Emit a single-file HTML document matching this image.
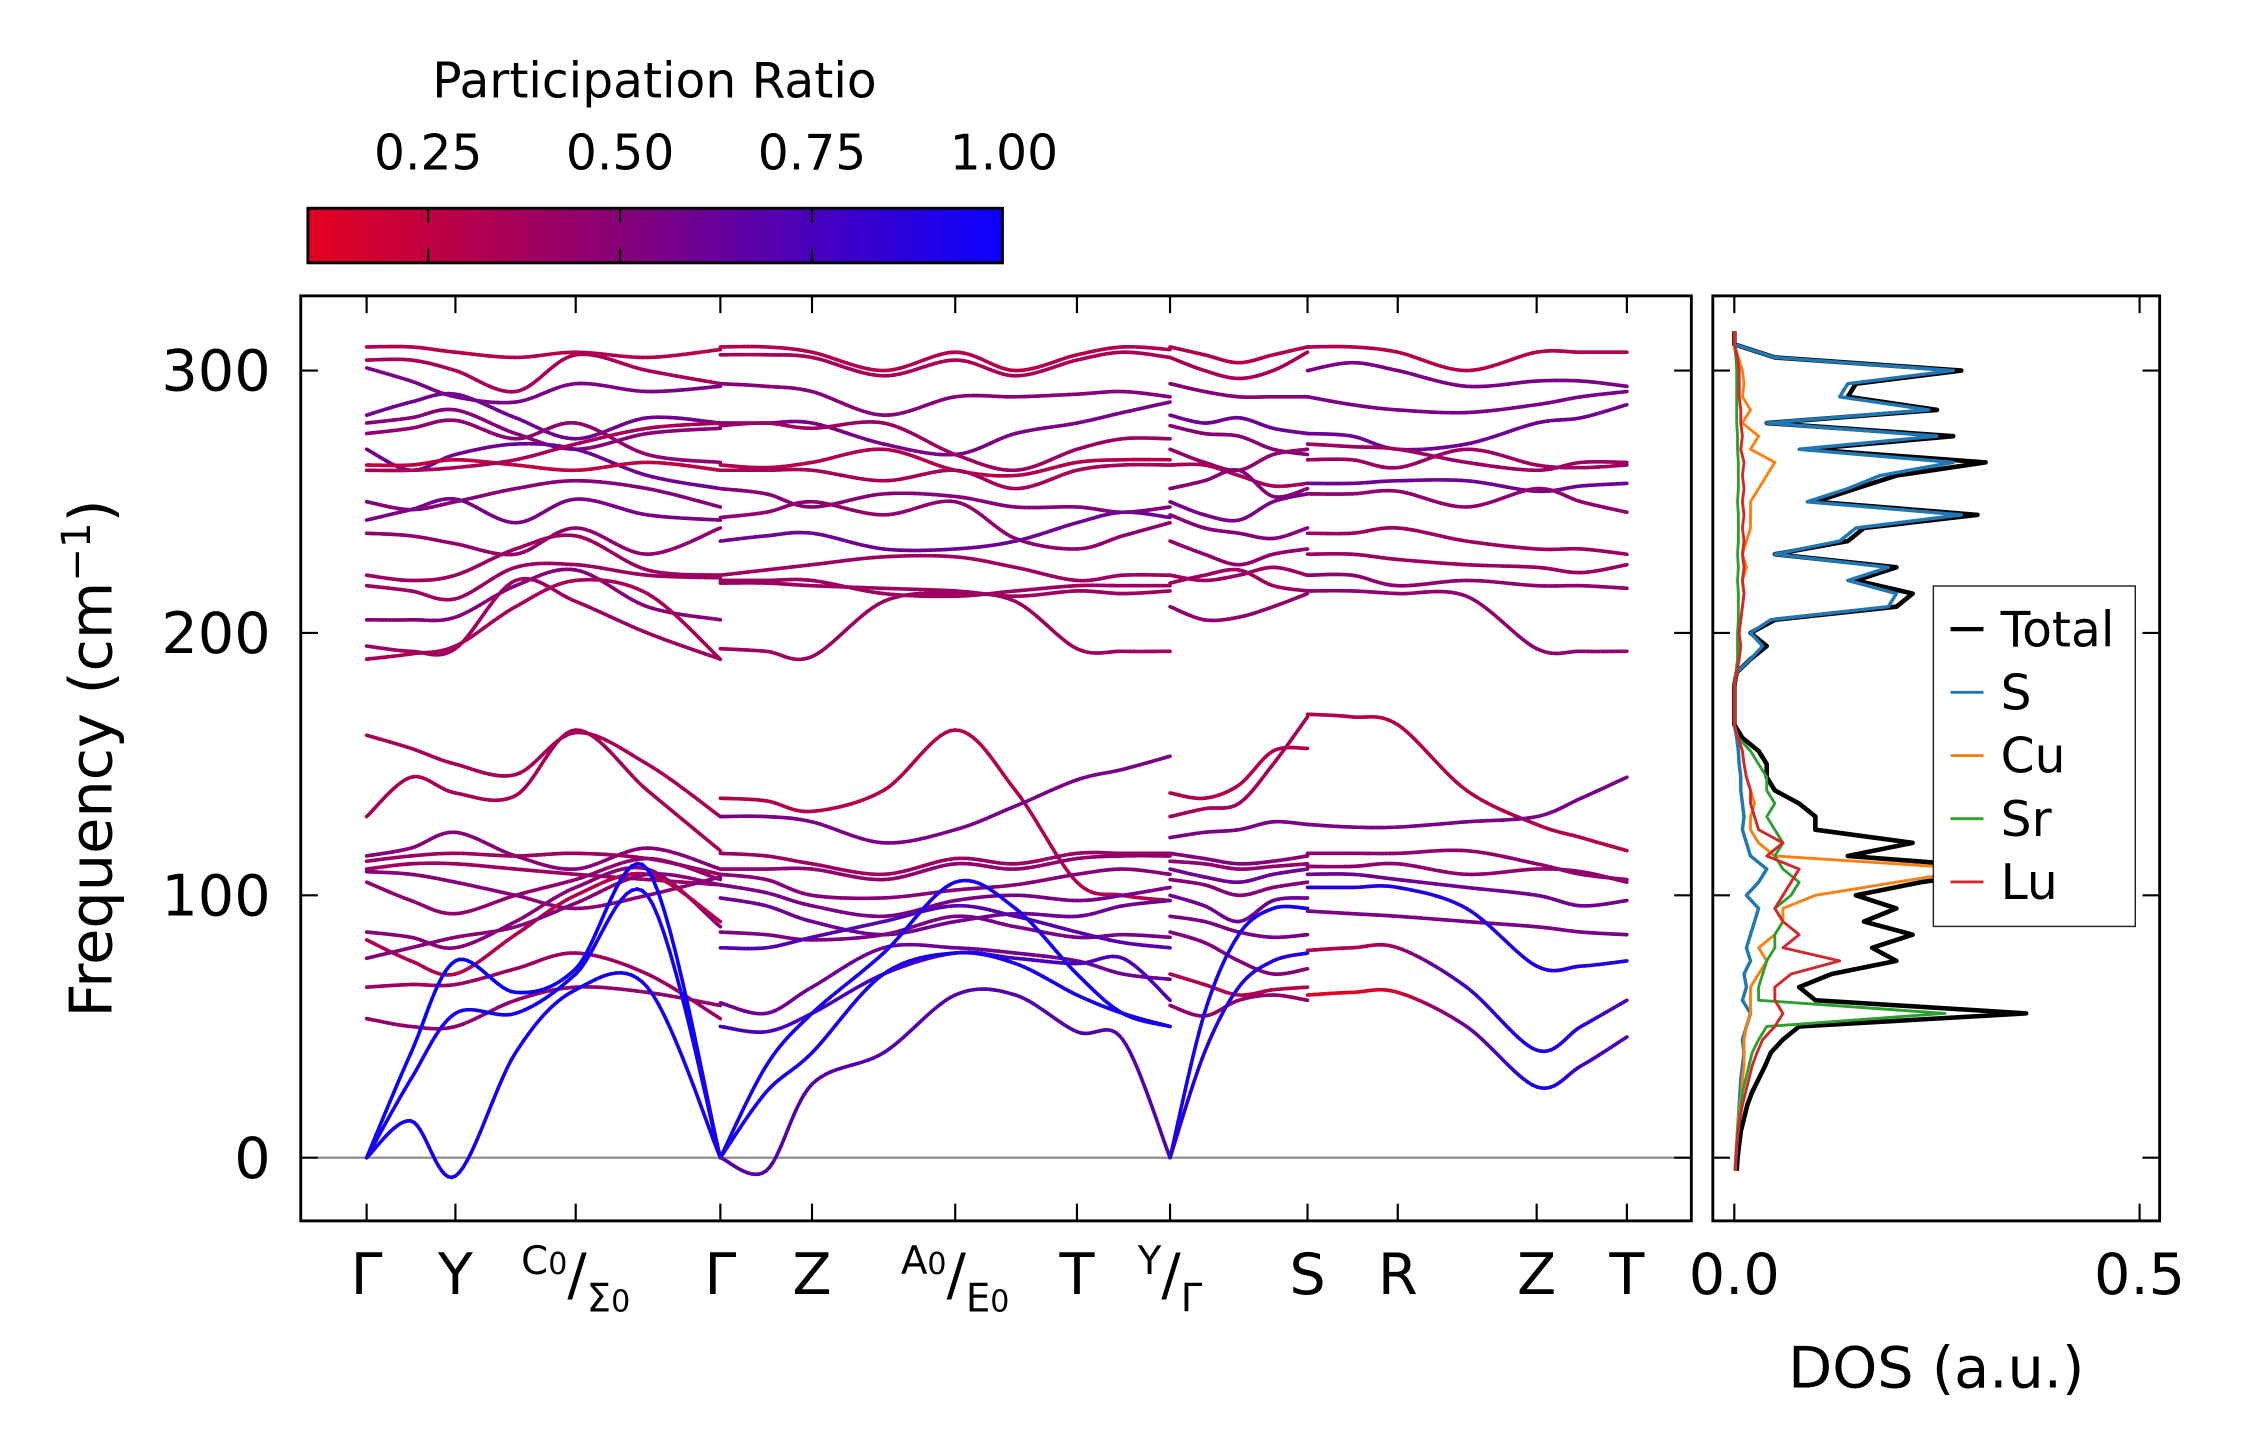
<!DOCTYPE html>
<html><head><meta charset="utf-8"><style>
html,body{margin:0;padding:0;background:#fff;}
svg{display:block;font-family:"DejaVu Sans","Liberation Sans",sans-serif;}
</style></head><body>
<svg id="fig" width="2247" height="1455" viewBox="0 0 1569 1013" preserveAspectRatio="none" xmlns="http://www.w3.org/2000/svg">
<defs>
<linearGradient id="cbgrad" x1="0" x2="1" y1="0" y2="0">
<stop offset="0" stop-color="rgb(228,0,30)"/>
<stop offset="0.45" stop-color="rgb(135,0,120)"/>
<stop offset="1" stop-color="rgb(10,0,255)"/>
</linearGradient>
<clipPath id="mainclip"><rect x="210" y="206" width="971" height="644"/></clipPath>
<clipPath id="dosclip"><rect x="1196" y="206" width="312" height="644"/></clipPath>
</defs>
<g>
<text x="457" y="68" font-size="34" text-anchor="middle">Participation Ratio</text>
<rect x="215" y="145" width="485" height="38" fill="url(#cbgrad)" stroke="#000" stroke-width="2"/>
<g id="cbticks"></g>
</g>
<g>
<rect x="210" y="206" width="971" height="644" fill="none" stroke="#000" stroke-width="2"/>
<line x1="222" x2="1181" y1="806" y2="806" stroke="#888" stroke-width="1.5"/>
<g id="bands" clip-path="url(#mainclip)"></g>
<g id="mainticks"></g>
<text transform="translate(78,528) rotate(-90)" font-size="41" text-anchor="middle">Frequency (cm<tspan font-size="28" dy="-15">−1</tspan><tspan dy="15">)</tspan></text>
</g>
<g>
<rect x="1196" y="206" width="312" height="644" fill="none" stroke="#000" stroke-width="2"/>
<g id="dos" clip-path="url(#dosclip)"></g>
<g id="dosticks"></g>
<text x="1352" y="966" font-size="40" text-anchor="middle">DOS (a.u.)</text>
<g id="legend"></g>
</g>
</svg>
<script>
// ---- band structure data ----
const kTickPos = [0, 62, 146, 247, 311, 411, 496, 561, 657, 720, 817, 880];
const yTicks = [0, 100, 200, 300];
const cbTicks = [0.25, 0.5, 0.75, 1.0];
const cbTickLabels = ["0.25", "0.50", "0.75", "1.00"];

const s1k = [0, 31, 62, 104, 146, 196, 247];
const s1f = [
[309,309,307,305,307,305,308],[304,304,300,292,306,300,295],[301,296,290,288,295,292,294],
[283,288,291,282,274,282,280],[280,282,285,276,270,276,278],[276,278,281,274,280,268,265],
[270,262,268,272,270,260,255],[264,264,266,264,262,265,262],[262,262,263,266,272,278,280],
[250,247,250,255,258,255,248],[243,247,251,242,251,245,243],[238,237,234,230,240,230,240],
[222,220,222,232,237,224,222],[218,216,213,225,226,222,221],[205,205,206,218,224,210,205],
[195,193,194,220,212,200,190],[190,192,195,210,220,215,190],
[161,156,150,146,162,150,130],[130,145,139,138,163,140,117],[115,118,124,115,110,118,110],
[113,115,116,115,116,114,108],[110,112,112,110,108,106,104],[109,108,105,100,95,100,107],
[105,98,93,100,106,114,106],[86,84,80,90,103,110,88],[83,75,70,85,100,108,90],
[76,80,84,88,97,108,104],[65,66,66,72,78,70,53],[53,50,50,60,65,63,58],
[0,40,75,63,72,110,0],[0,30,55,55,70,100,0],[0,14,-7,40,64,65,0]];
const s1p = [.3,.35,.55,.6,.5,.45,.6,.25,.35,.5,.55,.45,.4,.4,.5,.4,.35,
.35,.35,.5,.4,.4,.5,.45,.5,.3,.5,.4,.45,1.0,.95,.95];

const s2k = [247, 279, 311, 361, 411, 453, 496, 528, 561];
const s2f = [
[309,309,307,300,307,300,306,309,308],[306,306,305,298,304,298,304,307,305],[295,294,292,283,290,290,291,292,290],
[280,280,280,272,268,276,280,284,288],[279,280,278,280,268,262,270,274,274],[264,263,265,270,262,260,265,266,266],
[262,262,262,258,262,255,262,264,264],[255,253,248,253,252,248,248,246,248],[244,246,250,245,250,236,232,237,242],
[235,237,238,232,232,235,242,246,244],[222,224,226,229,229,225,220,222,222],[220,220,220,215,214,216,218,218,218],
[219,219,218,217,216,214,216,215,216],[194,193,191,212,215,212,194,193,193],
[137,136,132,140,163,140,105,100,98],[130,130,128,120,125,134,144,148,153],[116,115,112,108,114,112,116,116,116],
[110,110,110,106,112,110,114,115,115],[108,106,100,99,102,104,108,110,108],[104,101,96,92,98,100,98,100,103],
[99,96,90,85,90,93,92,96,98],[86,85,83,85,92,88,84,85,84],[80,80,84,90,96,92,86,82,80],
[59,55,65,80,80,78,75,70,68],[50,48,55,70,78,76,74,76,60],[0,25,40,70,78,74,62,55,50],
[0,35,55,78,105,95,70,55,50],[0,-5,28,40,62,62,48,45,0]];
const s2p = [.3,.35,.5,.55,.4,.3,.35,.5,.45,.6,.4,.4,.4,.4,
.3,.55,.4,.45,.5,.55,.6,.55,.7,.6,.75,.95,.95,.7];

const s3k = [561, 585, 609, 633, 657];
const s3f = [
[309,306,303,306,309],[305,300,297,300,307],[295,292,290,290,290],[283,280,282,278,276],
[279,276,275,270,268],[270,265,262,268,270],[264,264,260,256,257],[255,258,262,252,255],
[250,245,243,250,253],[245,240,238,236,240],[235,230,226,230,232],[222,220,222,225,222],
[219,222,224,218,216],[210,205,206,210,215],
[139,137,142,155,156],[130,133,135,150,168],[122,124,125,128,127],[116,114,112,113,115],
[113,112,110,111,112],[110,107,105,108,110],[106,104,100,103,105],[100,96,90,98,99],
[92,90,86,84,85],[86,82,75,70,72],[70,66,62,64,65],[58,54,60,62,60],
[0,55,85,95,95],[0,40,65,75,78]];
const s3p = [.3,.35,.5,.6,.5,.45,.35,.5,.55,.5,.45,.4,.4,.45,
.3,.35,.55,.5,.45,.6,.5,.6,.55,.5,.3,.45,.95,.9];

const s4k = [657, 688, 720, 768, 817, 848, 880];
const s4f = [
[309,309,307,300,307,307,307],[300,303,300,294,296,296,294],[290,287,285,284,287,290,292],
[276,275,270,272,280,282,287],[272,271,270,265,262,265,265],[266,266,263,270,264,263,264],
[257,257,258,258,254,256,257],[253,253,254,248,255,250,246],[238,238,240,235,232,232,230],
[230,230,228,226,225,223,226],[222,222,218,220,218,218,217],[216,216,215,214,194,193,193],
[169,168,165,140,127,122,117],[127,126,126,128,130,137,145],[116,116,116,117,112,108,106],
[111,111,112,108,110,109,105],[108,108,106,103,100,96,98],[94,93,92,90,88,86,85],
[103,103,103,95,73,73,75],[79,80,80,65,41,50,60],[62,63,63,50,27,35,46]];
const s4p = [.3,.55,.55,.6,.4,.4,.6,.45,.4,.4,.45,.45,
.3,.55,.45,.45,.6,.55,.9,[.3,.3,.4,.8,.95,.85,.7],[.1,.1,.15,.6,.95,.8,.7]];

// ---- DOS data (frequency grid every 5 cm-1 from -5 to 315) ----
const dosFreq = [];
for (let f = -5; f <= 315; f += 5) dosFreq.push(f);
const dosTotal = [0.003,0.004,0.006,0.008,0.012,0.016,0.022,0.03,0.038,0.045,0.06,0.08,0.36,0.1,0.08,0.12,0.2,0.17,0.22,0.16,0.2,0.15,0.23,0.35,0.14,0.22,0.1,0.1,0.08,0.05,0.04,0.04,0.03,0.01,0.0,0.0,0.0,0.0,0.003,0.02,0.04,0.02,0.05,0.2,0.22,0.15,0.2,0.05,0.14,0.16,0.3,0.1,0.15,0.2,0.31,0.09,0.27,0.04,0.25,0.14,0.15,0.28,0.05,0.0,0.0];
const dosS = [0.001,0.002,0.003,0.004,0.005,0.006,0.007,0.008,0.01,0.012,0.01,0.015,0.02,0.01,0.015,0.012,0.02,0.015,0.02,0.025,0.03,0.015,0.03,0.04,0.02,0.015,0.01,0.012,0.01,0.008,0.008,0.006,0.005,0.003,0.0,0.0,0.0,0.0,0.003,0.02,0.035,0.02,0.045,0.19,0.2,0.14,0.19,0.05,0.13,0.15,0.28,0.09,0.14,0.18,0.27,0.08,0.25,0.04,0.24,0.13,0.14,0.27,0.05,0.0,0.0];
const dosCu = [0.001,0.002,0.003,0.004,0.005,0.007,0.009,0.01,0.012,0.012,0.012,0.015,0.02,0.02,0.02,0.03,0.04,0.03,0.05,0.06,0.06,0.1,0.2,0.3,0.05,0.03,0.02,0.02,0.025,0.02,0.015,0.012,0.01,0.005,0.0,0.0,0.0,0.0,0.002,0.005,0.006,0.005,0.008,0.01,0.012,0.01,0.015,0.01,0.015,0.02,0.02,0.02,0.03,0.04,0.05,0.02,0.03,0.01,0.02,0.01,0.012,0.01,0.005,0.0,0.0];
const dosSr = [0.001,0.002,0.003,0.004,0.006,0.008,0.01,0.014,0.018,0.022,0.03,0.04,0.26,0.03,0.03,0.035,0.04,0.05,0.05,0.06,0.05,0.07,0.08,0.06,0.05,0.06,0.05,0.04,0.05,0.04,0.04,0.03,0.02,0.005,0.0,0.0,0.0,0.0,0.002,0.004,0.004,0.004,0.005,0.005,0.005,0.004,0.005,0.004,0.005,0.005,0.005,0.004,0.005,0.005,0.005,0.004,0.004,0.003,0.003,0.003,0.003,0.003,0.002,0.0,0.0];
const dosLu = [0.001,0.002,0.003,0.005,0.007,0.01,0.014,0.018,0.022,0.028,0.035,0.05,0.06,0.05,0.05,0.07,0.13,0.06,0.08,0.06,0.05,0.06,0.07,0.08,0.04,0.06,0.03,0.025,0.02,0.02,0.015,0.012,0.01,0.005,0.0,0.0,0.0,0.0,0.003,0.006,0.008,0.006,0.008,0.01,0.012,0.01,0.012,0.01,0.012,0.01,0.012,0.01,0.012,0.01,0.012,0.008,0.01,0.008,0.008,0.006,0.006,0.006,0.004,0.0,0.0];
const legendLabels = ["Total","S","Cu","Sr","Lu"];
const legendColors = ["#000000","#1f77b4","#ff7f0e","#2ca02c","#d62728"];

// ---- scales ----
const NS = "http://www.w3.org/2000/svg";
function xK(k){ return 256 + k; }
function yF(f){ return 806 - f * 1.8267; }
function xD(d){ return 1211 + d * 566; }
function xCb(v){ return 299 + (v - 0.25) * 536; }
function prColor(p){
  const stops = [[0.09,[228,0,30]],[0.5,[135,0,120]],[1.0,[10,0,255]]];
  p = Math.max(0.09, Math.min(1, p));
  let a = stops[0], b = stops[1];
  if (p > 0.5) { a = stops[1]; b = stops[2]; }
  const t = (p - a[0]) / (b[0] - a[0]);
  const c = a[1].map((v,i)=>Math.round(v + (b[1][i]-v)*t));
  return `rgb(${c[0]},${c[1]},${c[2]})`;
}
function mk(tag, attrs, parent){
  const e = document.createElementNS(NS, tag);
  for (const k in attrs) e.setAttribute(k, attrs[k]);
  parent.appendChild(e);
  return e;
}

// ---- colorbar ticks ----
const cbt = document.getElementById('cbticks');
cbTicks.forEach((v,i)=>{
  const x = xCb(v);
  if (v < 1) {
    const l = mk('line',{x1:x,x2:x,y1:145,y2:155,stroke:'#000','stroke-width':1.5},cbt);
    
    
    const l2 = mk('line',{x1:x,x2:x,y1:173,y2:183,stroke:'#000','stroke-width':1.5},cbt);
    
    
  }
  const t = mk('text',{x:x,y:118,'font-size':34,'text-anchor':'middle'},cbt);
  t.textContent = cbTickLabels[i];
  
  
});

// ---- bands ----
const bandsG = document.getElementById('bands');
function drawSection(ks, fs, ps, secName){
  fs.forEach((band, bi)=>{
    const pr = ps[bi];
    const prArr = Array.isArray(pr) ? pr : ks.map(()=>pr);
    const g = mk('g',{},bandsG);
    
    
    const n = ks.length;
    const P = ks.map((k,i)=>[xK(k), yF(band[i])]);
    for (let i=0;i<n-1;i++){
      const p0 = P[Math.max(0,i-1)], p1 = P[i], p2 = P[i+1], p3 = P[Math.min(n-1,i+2)];
      const steps = 14;
      let prev = p1;
      for (let s=1;s<=steps;s++){
        const t = s/steps, t2=t*t, t3=t2*t;
        const x = 0.5*((2*p1[0]) + (-p0[0]+p2[0])*t + (2*p0[0]-5*p1[0]+4*p2[0]-p3[0])*t2 + (-p0[0]+3*p1[0]-3*p2[0]+p3[0])*t3);
        const y = 0.5*((2*p1[1]) + (-p0[1]+p2[1])*t + (2*p0[1]-5*p1[1]+4*p2[1]-p3[1])*t2 + (-p0[1]+3*p1[1]-3*p2[1]+p3[1])*t3);
        const pv = prArr[i] + (prArr[i+1]-prArr[i])*(t - 0.5/steps);
        mk('line',{x1:prev[0].toFixed(2),y1:prev[1].toFixed(2),x2:x.toFixed(2),y2:y.toFixed(2),stroke:prColor(pv),'stroke-width':2.5,'stroke-linecap':'round'},g);
        prev = [x,y];
      }
    }
  });
}
drawSection(s1k, s1f, s1p, 'gamma-y-sigma-gamma');
drawSection(s2k, s2f, s2p, 'gamma-z-a-t-y');
drawSection(s3k, s3f, s3p, 'gamma-s');
drawSection(s4k, s4f, s4p, 's-r-z-t');

// ---- main ticks ----
const mt = document.getElementById('mainticks');
kTickPos.forEach(k=>{
  const x = xK(k);
  const a = mk('line',{x1:x,x2:x,y1:206,y2:218,stroke:'#000','stroke-width':1.5},mt);
  
  
  const b = mk('line',{x1:x,x2:x,y1:838,y2:850,stroke:'#000','stroke-width':1.5},mt);
  
  
});
yTicks.forEach(f=>{
  const y = yF(f);
  const a = mk('line',{x1:210,x2:222,y1:y,y2:y,stroke:'#000','stroke-width':1.5},mt);
  
  
  const b = mk('line',{x1:1169,x2:1181,y1:y,y2:y,stroke:'#000','stroke-width':1.5},mt);
  
  
  const t = mk('text',{x:189,y:y+14,'font-size':40,'text-anchor':'end'},mt);
  t.textContent = String(f);
  
  
});
// k-point labels
const simpleLabels = [[0,'Γ'],[62,'Y'],[247,'Γ'],[311,'Z'],[496,'T'],[657,'S'],[720,'R'],[817,'Z'],[880,'T']];
simpleLabels.forEach(([k,s])=>{
  const t = mk('text',{x:xK(k),y:901,'font-size':40,'text-anchor':'middle'},mt);
  t.textContent = s;
  
  
});
const combo = [[146,'C','0','Σ','0'],[411,'A','0','E','0'],[561,'Y','','Γ','']];
combo.forEach(([k,a,as,b,bs])=>{
  const x = xK(k);
  const t = mk('text',{x:x,y:901,'font-size':40,'text-anchor':'middle'},mt);
  
  
  t.innerHTML = `<tspan font-size="27" dy="-14">${a}${as?'<tspan font-size="21">'+as+'</tspan>':''}</tspan><tspan dy="14">/</tspan><tspan font-size="27" dy="12">${b}${bs?'<tspan font-size="21">'+bs+'</tspan>':''}</tspan>`;
});

// ---- DOS ----
const dosG = document.getElementById('dos');
const series = [[dosTotal,'#000000',3.2,'dos-total-line'],[dosS,'#1f77b4',2.4,'dos-s-line'],[dosCu,'#ff7f0e',2,'dos-cu-line'],[dosSr,'#2ca02c',2,'dos-sr-line'],[dosLu,'#d62728',2,'dos-lu-line']];
series.forEach(([vals,col,w,name])=>{
  const pts = vals.map((v,i)=>xD(v).toFixed(2)+','+yF(dosFreq[i]).toFixed(2)).join(' ');
  const pl = mk('polyline',{points:pts,fill:'none',stroke:col,'stroke-width':w,'stroke-linejoin':'round'},dosG);
  
  
});
const dt = document.getElementById('dosticks');
[0,0.5].forEach((d,i)=>{
  const x = xD(d);
  const a = mk('line',{x1:x,x2:x,y1:206,y2:218,stroke:'#000','stroke-width':1.5},dt);
  
  
  const b = mk('line',{x1:x,x2:x,y1:838,y2:850,stroke:'#000','stroke-width':1.5},dt);
  
  
  const t = mk('text',{x:x,y:901,'font-size':40,'text-anchor':'middle'},dt);
  t.textContent = ['0.0','0.5'][i];
  
  
});
yTicks.forEach(f=>{
  const y = yF(f);
  const a = mk('line',{x1:1196,x2:1208,y1:y,y2:y,stroke:'#000','stroke-width':1.5},dt);
  
  
  const b = mk('line',{x1:1496,x2:1508,y1:y,y2:y,stroke:'#000','stroke-width':1.5},dt);
  
  
});
// legend
const lg = document.getElementById('legend');
const box = mk('rect',{x:1350,y:408,width:141,height:237,fill:'#fff',stroke:'#222','stroke-width':1},lg);


legendLabels.forEach((lab,i)=>{
  const y = 438 + i*44;
  const g = mk('g',{},lg);
  
  
  mk('line',{x1:1362,x2:1385,y1:y,y2:y,stroke:legendColors[i],'stroke-width':i===0?3:2},g);
  const t = mk('text',{x:1397,y:y+12,'font-size':34},g);
  t.textContent = lab;
});
</script>
</body></html>
